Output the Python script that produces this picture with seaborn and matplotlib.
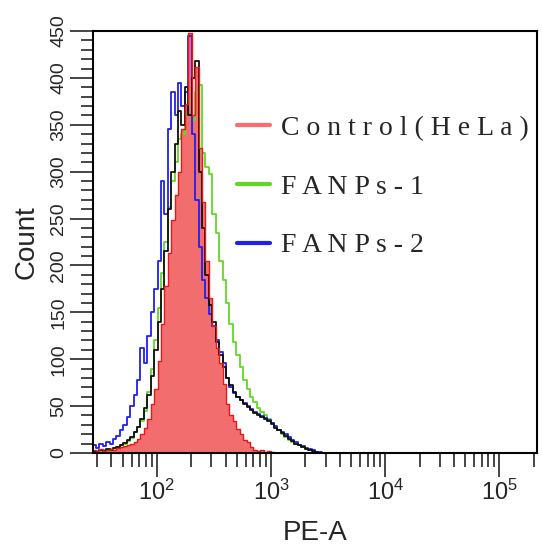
import numpy as np
import pandas as pd
import matplotlib
matplotlib.use("Agg")
import matplotlib.pyplot as plt
from matplotlib.lines import Line2D
from matplotlib.ticker import LogLocator, FixedLocator, MultipleLocator, NullFormatter
import seaborn as sns

# ---- data (log10 of PE-A bin centres, counts per bin) ----
log_pe = [1.45, 1.48, 1.51, 1.54, 1.57, 1.60, 1.63, 1.66, 1.69, 1.72,
          1.75, 1.78, 1.81, 1.84, 1.87, 1.90, 1.93, 1.96, 1.99, 2.02,
          2.05, 2.08, 2.11, 2.14, 2.17, 2.20, 2.23, 2.26, 2.29, 2.32,
          2.35, 2.38, 2.41, 2.44, 2.47, 2.50, 2.53, 2.56, 2.59, 2.62,
          2.65, 2.68, 2.71, 2.74, 2.77, 2.80, 2.83, 2.86, 2.89, 2.92,
          2.95, 2.98, 3.01, 3.04, 3.07, 3.10, 3.13, 3.16, 3.19, 3.22,
          3.25, 3.28, 3.31, 3.34, 3.37, 3.40, 3.43, 3.46, 3.49, 3.52,
          3.55]

control_hela = [3, 2, 4, 2, 3, 4, 3, 5, 6, 7,
                9, 10, 12, 15, 20, 27, 36, 52, 68, 98,
                138, 178, 213, 248, 275, 300, 345, 372, 448, 360,
                412, 325, 268, 205, 165, 135, 112, 96, 74, 52,
                40, 34, 26, 20, 14, 12, 6, 3, 2, 3,
                1, 2, 1, 0, 0, 0, 0, 0, 0, 0,
                0, 0, 0, 0, 0, 0, 0, 0, 0, 0,
                0]

fanps_1 = [1, 2, 1, 3, 2, 4, 5, 6, 8, 10,
           13, 16, 22, 28, 34, 45, 65, 90, 120, 155,
           192, 225, 262, 290, 310, 335, 340, 360, 375, 355,
           385, 392, 320, 305, 298, 255, 235, 205, 185, 160,
           138, 118, 104, 92, 78, 68, 60, 54, 48, 44,
           40, 36, 32, 28, 24, 20, 17, 14, 12, 10,
           8, 6, 4, 3, 1, 1, 0, 0, 0, 0,
           0]

fanps_2 = [8, 5, 10, 7, 12, 10, 15, 18, 24, 30,
           38, 50, 62, 78, 112, 96, 125, 150, 175, 205,
           290, 255, 345, 385, 360, 395, 370, 385, 445, 340,
           270, 220, 185, 165, 148, 135, 120, 108, 96, 80,
           70, 64, 60, 56, 53, 50, 47, 44, 42, 39,
           37, 35, 32, 29, 25, 22, 20, 17, 14, 12,
           9, 7, 5, 4, 3, 1, 1, 0, 0, 0,
           0]

overlay_black = [2, 1, 3, 2, 4, 3, 5, 6, 8, 11,
                 14, 17, 22, 28, 36, 48, 62, 82, 110, 140,
                 175, 215, 260, 300, 330, 365, 350, 390, 360, 400,
                 418, 300, 240, 190, 158, 140, 118, 104, 92, 80,
                 72, 65, 60, 56, 52, 49, 46, 43, 41, 38,
                 36, 34, 31, 27, 24, 21, 18, 15, 13, 10,
                 8, 6, 4, 3, 2, 1, 0, 0, 0, 0,
                 0]

legend_labels = ["Control(HeLa)", "FANPs-1", "FANPs-2"]
x_ticks = [1e2, 1e3, 1e4, 1e5]
y_ticks = [0, 50, 100, 150, 200, 250, 300, 350, 400, 450]

# ---- styling ----
sns.set_style("ticks")
plt.rcParams["font.family"] = ["Liberation Sans", "DejaVu Sans"]
plt.rcParams["mathtext.fontset"] = "custom"
plt.rcParams["mathtext.rm"] = "Liberation Sans"
plt.rcParams["mathtext.it"] = "Liberation Sans"
plt.rcParams["mathtext.default"] = "regular"

c_fill = "#F26E6E"
c_red = "#E81818"
c_green = "#62D826"
c_blue = "#2020F0"
c_black = "#101010"

pe = 10 ** np.array(log_pe)
df = pd.DataFrame({
    "PE-A": np.concatenate([pe] * 4),
    "Count": np.concatenate([control_hela, fanps_1, fanps_2, overlay_black]),
    "Sample": (["Control(HeLa)"] * len(pe) + ["FANPs-1"] * len(pe)
               + ["FANPs-2"] * len(pe) + ["overlay"] * len(pe)),
})

fig = plt.figure(figsize=(5.42, 5.49), dpi=100)
ax = fig.add_axes([93 / 542, 1 - 453 / 549, (537 - 93) / 542, (453 - 31) / 549])

ax.fill_between(pe, control_hela, step="mid", color=c_fill, lw=0, zorder=1)
order = ["FANPs-1", "FANPs-2", "overlay", "Control(HeLa)"]
pal = {"Control(HeLa)": c_red, "FANPs-1": c_green, "FANPs-2": c_blue, "overlay": c_black}
for name in order:
    sub = df[df["Sample"] == name]
    sns.lineplot(data=sub, x="PE-A", y="Count", color=pal[name], ax=ax,
                 drawstyle="steps-mid", estimator=None, sort=False,
                 lw=1.3 if name != "Control(HeLa)" else 1.0, zorder=2, legend=False)

ax.set_xscale("log")
ax.set_xlim(10 ** 1.44, 10 ** 5.33)
ax.set_ylim(0, 450)

ax.xaxis.set_major_locator(FixedLocator(x_ticks))
ax.xaxis.set_minor_locator(LogLocator(base=10, subs=range(2, 10), numticks=20))
ax.xaxis.set_minor_formatter(NullFormatter())
ax.yaxis.set_major_locator(FixedLocator(y_ticks))
ax.yaxis.set_minor_locator(MultipleLocator(10))

ax.tick_params(axis="x", which="major", length=17, width=1.2, pad=2, labelsize=17, direction="out")
ax.tick_params(axis="x", which="minor", length=10, width=1.2, direction="out")
ax.tick_params(axis="y", which="major", length=16.5, width=1.2, pad=2, labelsize=14, direction="out")
ax.tick_params(axis="y", which="minor", length=8.5, width=1.2, direction="out")
for lab in ax.get_yticklabels():
    lab.set_rotation(90)
    lab.set_va("center")
    lab.set_family(["Liberation Sans Narrow", "Liberation Sans"])

for s in ax.spines.values():
    s.set_linewidth(1.5)
    s.set_color("black")

ax.set_xlabel("PE-A", fontsize=20, labelpad=11)
ax.set_ylabel("Count", fontsize=20, labelpad=8)

handles = [Line2D([], [], color="#FF6A6A", lw=3),
           Line2D([], [], color=c_green, lw=3),
           Line2D([], [], color=c_blue, lw=3)]
spaced = [" ".join(list(t)) for t in legend_labels]
ax.legend(handles, spaced, loc="upper left", bbox_to_anchor=(0.324, 0.80),
          frameon=False, borderpad=0, borderaxespad=0, handlelength=1.2,
          handletextpad=0.4, labelspacing=1.2,
          prop={"family": "Liberation Serif", "size": 20})

fig.savefig("out.png", dpi=100)
